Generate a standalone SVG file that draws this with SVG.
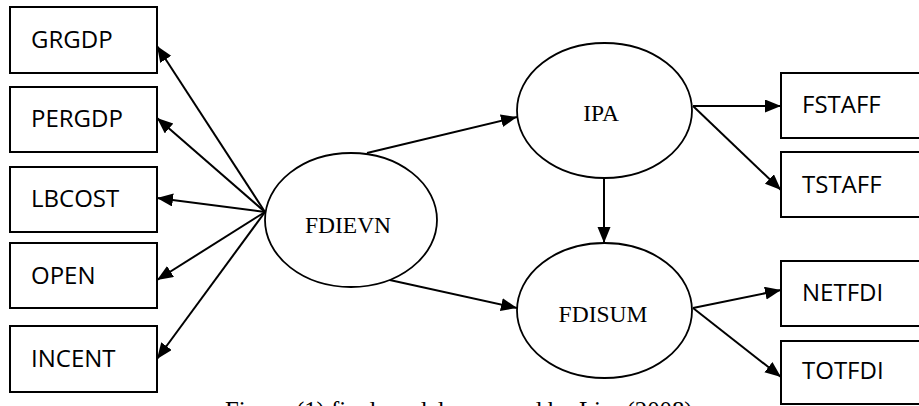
<svg xmlns="http://www.w3.org/2000/svg" width="919" height="406" viewBox="0 0 919 406">
<defs>
<style>
.box{fill:#fff;stroke:#000;stroke-width:2}
.ell{fill:#fff;stroke:#000;stroke-width:1.8}
.bt{font-family:"Open Sans","Liberation Sans",sans-serif;font-size:24px;fill:#000}
.et{font-family:"Liberation Serif",serif;font-size:23.5px;fill:#000;text-anchor:middle}
.cap{font-family:"Liberation Serif",serif;font-size:24.8px;fill:#000}
.c{stroke:#000;stroke-width:2;fill:none;marker-end:url(#ah)}
</style>
<marker id="ah" markerUnits="userSpaceOnUse" markerWidth="17" markerHeight="14" refX="16" refY="6.5" orient="auto">
<path d="M0,0 L16,6.5 L0,13 z" fill="#000"/>
</marker>
</defs>
<rect width="919" height="406" fill="#fff"/>
<g id="connectors">
<line class="c" x1="265" y1="212" x2="157" y2="46"/>
<line class="c" x1="265" y1="212" x2="157" y2="118"/>
<line class="c" x1="265" y1="212" x2="157" y2="198"/>
<line class="c" x1="265" y1="212" x2="157" y2="280"/>
<line class="c" x1="265" y1="212" x2="157" y2="359"/>
<line class="c" x1="367" y1="153" x2="517" y2="117"/>
<line class="c" x1="367" y1="275" x2="517" y2="308"/>
<line class="c" x1="604" y1="178" x2="604" y2="243"/>
<line class="c" x1="693" y1="106" x2="781" y2="106"/>
<line class="c" x1="693" y1="106" x2="781" y2="190"/>
<line class="c" x1="693" y1="308" x2="781" y2="290"/>
<line class="c" x1="693" y1="308" x2="781" y2="377"/>
</g>
<g id="GRGDP"><rect class="box" x="10" y="7" width="147" height="66"/><text class="bt" x="31" y="48">GRGDP</text></g>
<g id="PERGDP"><rect class="box" x="10" y="87" width="147" height="65"/><text class="bt" x="31" y="127">PERGDP</text></g>
<g id="LBCOST"><rect class="box" x="10" y="167" width="147" height="65"/><text class="bt" x="31" y="207">LBCOST</text></g>
<g id="OPEN"><rect class="box" x="10" y="243" width="147" height="65"/><text class="bt" x="31" y="284">OPEN</text></g>
<g id="INCENT"><rect class="box" x="10" y="326" width="147" height="66"/><text class="bt" x="31" y="367">INCENT</text></g>
<g id="FDIEVN"><ellipse class="ell" cx="351" cy="220" rx="86" ry="67"/><text class="et" x="348" y="233">FDIEVN</text></g>
<g id="IPA"><ellipse class="ell" cx="604.5" cy="110.5" rx="87.5" ry="67.5"/><text class="et" x="601" y="121">IPA</text></g>
<g id="FDISUM"><ellipse class="ell" cx="604.5" cy="310.5" rx="87.5" ry="67.5"/><text class="et" x="603" y="322">FDISUM</text></g>
<g id="FSTAFF"><rect class="box" x="781" y="73" width="150" height="65"/><text class="bt" x="802" y="113">FSTAFF</text></g>
<g id="TSTAFF"><rect class="box" x="781" y="152" width="150" height="65"/><text class="bt" x="802" y="193">TSTAFF</text></g>
<g id="NETFDI"><rect class="box" x="781" y="261" width="150" height="65"/><text class="bt" x="802" y="301">NETFDI</text></g>
<g id="TOTFDI"><rect class="box" x="781" y="341" width="150" height="63"/><text class="bt" x="802" y="379">TOTFDI</text></g>
<text class="cap" x="225" y="419">Figure (1) final model proposed by Lim (2008)</text>
</svg>
